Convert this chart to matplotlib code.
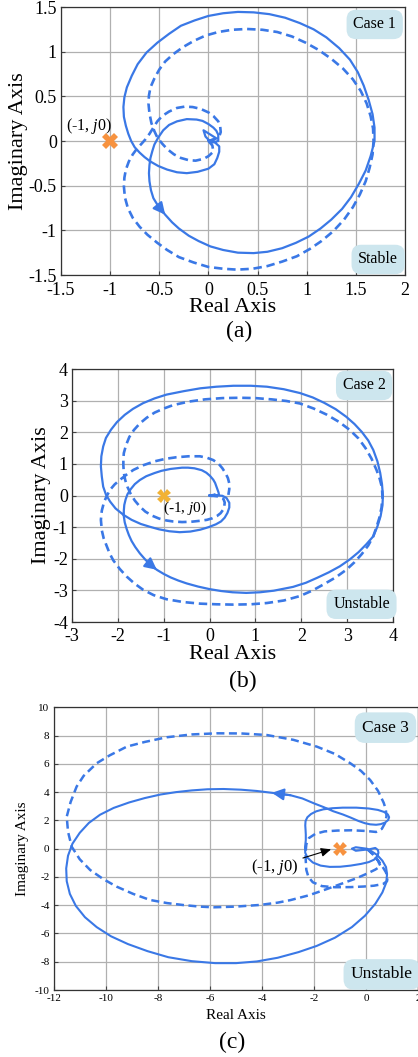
import matplotlib
matplotlib.use('Agg')
import matplotlib.pyplot as plt

plt.rcParams['font.family'] = ['Liberation Serif', 'DejaVu Serif']
plt.rcParams['mathtext.fontset'] = 'custom'
plt.rcParams['mathtext.rm'] = 'Liberation Serif'
plt.rcParams['mathtext.it'] = 'Liberation Serif:italic'

BLUE = '#3a78e6'
BOXC = '#cde6ee'

# ---------------- Case 1 (a) : (re, im) points ----------------
a_sol = [(0.00, 0.00), (0.08, 0.03), (-0.05, 0.12), (-0.03, 0.05), (0.03, -0.02), (0.10, 0.00),
         (0.10, 0.07), (0.08, 0.115), (0.05, 0.15), (0.00, 0.19), (-0.06, 0.225), (-0.12, 0.24),
         (-0.22, 0.245), (-0.32, 0.22), (-0.40, 0.18), (-0.46, 0.12), (-0.51, 0.04), (-0.55, -0.04),
         (-0.57, -0.11), (-0.59, -0.19), (-0.60, -0.27), (-0.605, -0.36), (-0.60, -0.45), (-0.585, -0.55),
         (-0.56, -0.64), (-0.51, -0.73), (-0.44, -0.825), (-0.37, -0.91), (-0.30, -0.98), (-0.20, -1.06),
         (-0.10, -1.12), (0.02, -1.18), (0.15, -1.22), (0.30, -1.25), (0.46, -1.255), (0.60, -1.24),
         (0.75, -1.20), (0.89, -1.14), (1.02, -1.07), (1.14, -0.98), (1.25, -0.88), (1.36, -0.76),
         (1.45, -0.63), (1.53, -0.48), (1.60, -0.33), (1.65, -0.17), (1.69, 0.00), (1.69, 0.15),
         (1.67, 0.30), (1.63, 0.46), (1.58, 0.62), (1.52, 0.77), (1.44, 0.91), (1.33, 1.04), (1.20, 1.16),
         (1.07, 1.25), (0.93, 1.32), (0.78, 1.38), (0.62, 1.42), (0.46, 1.44), (0.30, 1.445), (0.15, 1.43),
         (0.00, 1.40), (-0.14, 1.35), (-0.28, 1.29), (-0.40, 1.20), (-0.52, 1.10), (-0.63, 0.99),
         (-0.72, 0.86), (-0.78, 0.73), (-0.83, 0.60), (-0.855, 0.49), (-0.865, 0.38), (-0.86, 0.27),
         (-0.84, 0.17), (-0.815, 0.08), (-0.786, 0.00), (-0.75, -0.07), (-0.70, -0.13), (-0.65, -0.18),
         (-0.59, -0.23), (-0.51, -0.28), (-0.42, -0.32), (-0.32, -0.35), (-0.22, -0.36), (-0.11, -0.345),
         (0.00, -0.31), (0.06, -0.26), (0.09, -0.19), (0.11, -0.12), (0.11, -0.06), (0.05, 0.00)]
a_arrow = 26
a_das = [(0.00, 0.00), (0.06, 0.02), (0.11, 0.05), (0.125, 0.10), (0.12, 0.16), (0.10, 0.22), (0.05, 0.28),
         (0.00, 0.32), (-0.08, 0.36), (-0.16, 0.38), (-0.24, 0.385), (-0.32, 0.37), (-0.40, 0.33),
         (-0.47, 0.28), (-0.52, 0.22), (-0.56, 0.15), (-0.60, 0.08), (-0.64, 0.02), (-0.68, -0.03),
         (-0.73, -0.09), (-0.77, -0.15), (-0.81, -0.23), (-0.84, -0.32), (-0.855, -0.41), (-0.86, -0.51),
         (-0.85, -0.63), (-0.82, -0.75), (-0.77, -0.86), (-0.70, -0.96), (-0.62, -1.05), (-0.52, -1.14),
         (-0.42, -1.22), (-0.30, -1.30), (-0.15, -1.36), (0.00, -1.41), (0.15, -1.43), (0.29, -1.44),
         (0.45, -1.43), (0.60, -1.40), (0.75, -1.35), (0.90, -1.29), (1.03, -1.21), (1.15, -1.12),
         (1.27, -1.01), (1.38, -0.88), (1.47, -0.74), (1.54, -0.60), (1.60, -0.45), (1.64, -0.30),
         (1.67, -0.15), (1.68, 0.00), (1.675, 0.14), (1.65, 0.28), (1.61, 0.42), (1.55, 0.56), (1.47, 0.69),
         (1.37, 0.81), (1.25, 0.92), (1.12, 1.02), (0.99, 1.10), (0.85, 1.17), (0.70, 1.22), (0.55, 1.245),
         (0.39, 1.254), (0.24, 1.245), (0.10, 1.22), (-0.03, 1.18), (-0.15, 1.12), (-0.26, 1.05),
         (-0.36, 0.97), (-0.44, 0.89), (-0.50, 0.80), (-0.55, 0.70), (-0.59, 0.60), (-0.605, 0.51),
         (-0.61, 0.42), (-0.60, 0.31), (-0.58, 0.20), (-0.55, 0.11), (-0.52, 0.04), (-0.47, -0.03),
         (-0.42, -0.09), (-0.35, -0.15), (-0.28, -0.19), (-0.20, -0.215), (-0.13, -0.22), (-0.05, -0.20),
         (0.00, -0.17), (0.05, -0.12), (0.04, -0.05), (0.00, 0.00)]

# ---------------- Case 2 (b) ----------------
b_sol = [(0.00, 0.00), (0.12, 0.03), (0.04, -0.02), (0.20, 0.02), (0.20, 0.07), (0.19, 0.12), (0.17, 0.20),
         (0.15, 0.28), (0.12, 0.40), (0.08, 0.50), (0.01, 0.62), (-0.07, 0.72), (-0.17, 0.80), (-0.33, 0.86),
         (-0.47, 0.88), (-0.60, 0.88), (-0.85, 0.84), (-1.05, 0.78), (-1.20, 0.71), (-1.38, 0.61),
         (-1.52, 0.49), (-1.63, 0.36), (-1.72, 0.20), (-1.79, 0.04), (-1.83, -0.12), (-1.86, -0.30),
         (-1.87, -0.48), (-1.87, -0.66), (-1.85, -0.85), (-1.81, -1.05), (-1.76, -1.25), (-1.70, -1.44),
         (-1.62, -1.63), (-1.52, -1.83), (-1.40, -2.03), (-1.28, -2.20), (-1.15, -2.35), (-1.00, -2.48),
         (-0.85, -2.59), (-0.68, -2.69), (-0.50, -2.78), (-0.25, -2.88), (0.00, -2.96), (0.25, -3.02),
         (0.50, -3.06), (0.80, -3.08), (1.10, -3.06), (1.40, -3.01), (1.82, -2.89), (2.10, -2.76),
         (2.35, -2.60), (2.60, -2.43), (2.84, -2.24), (3.06, -2.02), (3.25, -1.79), (3.42, -1.54),
         (3.57, -1.29), (3.66, -0.98), (3.73, -0.65), (3.77, -0.32), (3.78, 0.00), (3.76, 0.36),
         (3.72, 0.72), (3.66, 1.08), (3.57, 1.44), (3.46, 1.74), (3.32, 2.01), (3.16, 2.26), (2.98, 2.49),
         (2.75, 2.73), (2.50, 2.93), (2.25, 3.10), (1.97, 3.24), (1.62, 3.36), (1.25, 3.44), (0.90, 3.47),
         (0.52, 3.47), (0.15, 3.44), (-0.20, 3.39), (-0.56, 3.30), (-0.94, 3.19), (-1.20, 3.07),
         (-1.45, 2.92), (-1.67, 2.74), (-1.85, 2.55), (-2.02, 2.32), (-2.15, 2.08), (-2.26, 1.82),
         (-2.32, 1.55), (-2.36, 1.24), (-2.37, 0.92), (-2.35, 0.60), (-2.32, 0.28), (-2.26, 0.03),
         (-2.17, -0.19), (-2.05, -0.41), (-1.88, -0.61), (-1.70, -0.77), (-1.50, -0.90), (-1.30, -0.99),
         (-1.10, -1.07), (-0.88, -1.13), (-0.65, -1.16), (-0.42, -1.14), (-0.20, -1.08), (-0.02, -1.00),
         (0.14, -0.91), (0.25, -0.82), (0.33, -0.70), (0.39, -0.55), (0.43, -0.38), (0.43, -0.23),
         (0.37, -0.08), (0.28, -0.01), (0.20, 0.00), (0.00, 0.00)]
b_arrow = 36
b_das = [(0.00, 0.00), (0.20, -0.03), (0.30, -0.10), (0.33, -0.22), (0.32, -0.35), (0.29, -0.46),
         (0.24, -0.56), (0.16, -0.65), (0.06, -0.72), (-0.06, -0.77), (-0.21, -0.80), (-0.40, -0.83),
         (-0.60, -0.84), (-0.80, -0.82), (-0.94, -0.79), (-1.10, -0.73), (-1.25, -0.64), (-1.40, -0.51),
         (-1.52, -0.35), (-1.63, -0.16), (-1.72, 0.05), (-1.79, 0.27), (-1.84, 0.49), (-1.87, 0.72),
         (-1.88, 0.95), (-1.88, 1.15), (-1.87, 1.34), (-1.82, 1.60), (-1.75, 1.85), (-1.65, 2.07),
         (-1.52, 2.28), (-1.37, 2.46), (-1.20, 2.62), (-1.00, 2.75), (-0.79, 2.86), (-0.45, 2.97),
         (-0.10, 3.04), (0.28, 3.08), (0.66, 3.09), (1.00, 3.08), (1.35, 3.04), (1.67, 2.99), (1.97, 2.91),
         (2.27, 2.75), (2.55, 2.56), (2.82, 2.33), (3.06, 2.07), (3.25, 1.80), (3.40, 1.50), (3.53, 1.17),
         (3.64, 0.81), (3.71, 0.53), (3.76, 0.25), (3.77, -0.05), (3.75, -0.38), (3.70, -0.72),
         (3.64, -1.00), (3.57, -1.29), (3.46, -1.58), (3.32, -1.85), (3.16, -2.11), (2.98, -2.35),
         (2.75, -2.59), (2.50, -2.80), (2.25, -3.00), (1.97, -3.18), (1.62, -3.32), (1.25, -3.40),
         (0.90, -3.44), (0.52, -3.45), (0.15, -3.44), (-0.20, -3.42), (-0.57, -3.37), (-0.94, -3.28),
         (-1.22, -3.15), (-1.45, -2.98), (-1.64, -2.78), (-1.81, -2.56), (-1.96, -2.32), (-2.10, -2.05),
         (-2.18, -1.83), (-2.24, -1.61), (-2.31, -1.35), (-2.35, -1.10), (-2.37, -0.77), (-2.35, -0.48),
         (-2.30, -0.20), (-2.24, -0.01), (-2.17, 0.18), (-2.07, 0.35), (-1.95, 0.50), (-1.81, 0.66),
         (-1.66, 0.81), (-1.44, 0.96), (-1.20, 1.08), (-0.96, 1.16), (-0.72, 1.21), (-0.46, 1.24),
         (-0.21, 1.24), (-0.05, 1.19), (0.08, 1.12), (0.20, 1.00), (0.28, 0.86), (0.35, 0.70), (0.40, 0.55),
         (0.43, 0.38), (0.43, 0.20), (0.41, 0.02)]

# ---------------- Case 3 (c) ----------------
c_sol = [(0.00, 0.00), (-0.40, 0.10), (-0.55, 0.00), (-0.40, -0.15), (0.10, -0.05), (0.35, 0.05),
         (0.45, -0.10), (0.47, -0.30), (0.42, -0.55), (0.30, -0.78), (0.10, -0.95), (-0.20, -1.08),
         (-0.60, -1.20), (-1.00, -1.28), (-1.40, -1.29), (-1.75, -1.20), (-2.05, -0.98), (-2.25, -0.65),
         (-2.34, -0.30), (-2.35, 0.10), (-2.32, 0.60), (-2.32, 1.00), (-2.33, 1.35), (-2.34, 1.64),
         (-2.33, 1.95), (-2.26, 2.22), (-2.12, 2.45), (-1.92, 2.64), (-1.65, 2.78), (-1.30, 2.86),
         (-0.90, 2.90), (-0.38, 2.90), (0.10, 2.84), (0.45, 2.74), (0.68, 2.60), (0.83, 2.42), (0.88, 2.22),
         (0.84, 2.02), (0.72, 1.84), (0.55, 1.73), (0.38, 1.69), (0.15, 1.72), (-0.05, 1.80), (-0.30, 1.96),
         (-0.60, 2.20), (-0.90, 2.42), (-1.27, 2.65), (-1.65, 2.95), (-2.00, 3.20), (-2.45, 3.55),
         (-2.91, 3.78), (-3.62, 3.95), (-4.20, 4.08), (-4.80, 4.17), (-5.48, 4.22), (-6.10, 4.20),
         (-6.70, 4.12), (-7.30, 4.00), (-7.90, 3.83), (-8.50, 3.58), (-9.10, 3.27), (-9.70, 2.88),
         (-10.22, 2.40), (-10.65, 1.82), (-11.00, 1.12), (-11.28, 0.35), (-11.45, -0.50), (-11.52, -1.40),
         (-11.50, -2.30), (-11.38, -3.20), (-11.15, -4.05), (-10.80, -4.85), (-10.35, -5.55), (-9.80, -6.20),
         (-9.15, -6.75), (-8.40, -7.25), (-7.60, -7.68), (-6.70, -7.96), (-5.80, -8.10), (-5.00, -8.10),
         (-4.20, -7.98), (-3.40, -7.72), (-2.60, -7.32), (-1.90, -6.88), (-1.20, -6.30), (-0.55, -5.55),
         (-0.05, -4.75), (0.35, -3.90), (0.62, -3.10), (0.77, -2.40), (0.80, -1.80), (0.76, -1.30),
         (0.62, -0.85), (0.42, -0.45), (0.20, -0.18), (0.03, -0.05)]
c_arrow = 51
c_das = [(0.00, 0.00), (0.20, -0.25), (0.40, -0.70), (0.60, -1.20), (0.75, -1.65), (0.82, -2.00),
         (0.80, -2.30), (0.65, -2.50), (0.30, -2.62), (-0.10, -2.68), (-0.60, -2.72), (-1.20, -2.73),
         (-1.70, -2.65), (-2.05, -2.38), (-2.22, -2.00), (-2.30, -1.50), (-2.32, -0.90), (-2.33, -0.30),
         (-2.30, 0.30), (-2.20, 0.75), (-1.95, 1.05), (-1.60, 1.22), (-1.10, 1.28), (-0.55, 1.30),
         (0.00, 1.25), (0.38, 1.18), (0.60, 1.40), (0.72, 1.80), (0.78, 2.30), (0.75, 2.80), (0.67, 3.25),
         (0.45, 4.10), (0.15, 4.86), (-0.20, 5.50), (-0.61, 6.04), (-1.20, 6.70), (-1.90, 7.22),
         (-2.80, 7.70), (-3.82, 8.04), (-4.80, 8.15), (-5.74, 8.16), (-6.70, 8.08), (-7.66, 7.88),
         (-8.50, 7.55), (-9.19, 7.22), (-9.85, 6.60), (-10.35, 6.04), (-10.85, 5.15), (-11.12, 4.39),
         (-11.35, 3.30), (-11.50, 2.26), (-11.45, 1.20), (-11.31, 0.14), (-11.00, -0.75), (-10.60, -1.51),
         (-10.10, -2.15), (-9.58, -2.69), (-8.95, -3.20), (-8.30, -3.63), (-7.65, -3.85), (-7.02, -3.99),
         (-6.40, -4.10), (-5.86, -4.15), (-5.00, -4.10), (-4.07, -3.98), (-3.40, -3.82), (-2.91, -3.64),
         (-2.20, -3.30), (-1.50, -2.85), (-0.90, -2.45), (-0.38, -2.10), (0.05, -1.75), (0.35, -1.48),
         (0.55, -1.25), (0.45, -0.85), (0.25, -0.40), (0.05, -0.05)]

crit_re, crit_im = -1, 0

a_xticks = [-1.5, -1, -0.5, 0, 0.5, 1, 1.5, 2]
a_xlabels = ['-1.5', '-1', '-0.5', '0', '0.5', '1', '1.5', '2']
a_yticks = [-1.5, -1, -0.5, 0, 0.5, 1, 1.5]
a_ylabels = ['-1.5', '-1', '-0.5', '0', '0.5', '1', '1.5']
b_xticks = list(range(-3, 5))
b_yticks = list(range(-4, 5))
c_xticks = list(range(-12, 3, 2))
c_yticks = list(range(-10, 11, 2))

fig = plt.figure(figsize=(4.18, 10.57), dpi=100)
W, H = 418, 1057


def make_ax(l, r, t, b):
    return fig.add_axes([l / W, 1 - b / H, (r - l) / W, (b - t) / H])


def style(ax, xt, xl, yt, yl, xlim, ylim, fs_tick, fs_lab, xlabpad, ylabpad, xpad=3):
    ax.set_xlim(*xlim)
    ax.set_ylim(*ylim)
    ax.set_xticks(xt)
    ax.set_xticklabels(xl)
    ax.set_yticks(yt)
    ax.set_yticklabels(yl)
    ax.grid(True, color='#b0b0b0', lw=0.9)
    ax.set_axisbelow(True)
    ax.tick_params(direction='in', length=3, labelsize=fs_tick, width=0.8, color='#444444', pad=3)
    ax.tick_params(axis='x', pad=xpad)
    for s in ax.spines.values():
        s.set_color('#333333')
        s.set_linewidth(0.9)
    ax.set_xlabel('Real Axis', fontsize=fs_lab, labelpad=xlabpad)
    ax.set_ylabel('Imaginary Axis', fontsize=fs_lab, labelpad=ylabpad)


def curves(ax, sol, das, idx, lw=1.6):
    sr = [p[0] for p in sol]
    si = [p[1] for p in sol]
    dr = [p[0] for p in das]
    di = [p[1] for p in das]
    ax.plot(sr, si, color=BLUE, lw=lw, solid_joinstyle='round')
    ax.plot(dr, di, color=BLUE, lw=lw + 0.3, ls=(0, (3.2, 1.8)), dash_capstyle='butt')
    ax.annotate('', xy=(sr[idx], si[idx]), xytext=(sr[idx - 1], si[idx - 1]),
                arrowprops=dict(arrowstyle='-|>,head_length=0.7,head_width=0.35', color=BLUE,
                                lw=lw, shrinkA=0, shrinkB=0, mutation_scale=10))


def tag(ax, x, y, s, fs):
    ax.text(x, y, s, transform=ax.transAxes, ha='center', va='center', fontsize=fs,
            bbox=dict(boxstyle='round,pad=0.42,rounding_size=0.6', fc=BOXC, ec='none'))


# (a)
ax1 = make_ax(61, 405, 7, 275)
style(ax1, a_xticks, a_xlabels, a_yticks, a_ylabels, (-1.5, 2), (-1.5, 1.5), 13, 16, -1, 0, xpad=5)
curves(ax1, a_sol, a_das, a_arrow)
ax1.plot([crit_re], [crit_im], marker='X', color='#f7923f', ms=11, mew=0, ls='none')
ax1.text(-1.22, 0.17, '(-1, $j$0)', fontsize=11.5, ha='center', va='center')
tag(ax1, 0.912, 0.935, 'Case 1', 11.5)
tag(ax1, 0.922, 0.058, 'Stable', 11.5)
fig.text(239 / W, 1 - 331 / H, '(a)', ha='center', va='center', fontsize=17)

# (b)
ax2 = make_ax(72, 393, 369, 622)
style(ax2, b_xticks, [str(v) for v in b_xticks], b_yticks, [str(v) for v in b_yticks],
      (-3, 4), (-4, 4), 13, 16, 0, 1, xpad=4)
curves(ax2, b_sol, b_das, b_arrow)
ax2.plot([crit_re], [crit_im], marker='X', color='#f2b233', ms=10, mew=0, ls='none')
ax2.text(-0.54, -0.42, '(-1, $j$0)', fontsize=11, ha='center', va='center')
tag(ax2, 0.91, 0.935, 'Case 2', 11.5)
tag(ax2, 0.902, 0.07, 'Unstable', 11.5)
fig.text(243 / W, 1 - 681 / H, '(b)', ha='center', va='center', fontsize=17)

# (c)
ax3 = make_ax(53.7, 418.3, 707.3, 990)
style(ax3, c_xticks, [str(v) for v in c_xticks], c_yticks, [str(v) for v in c_yticks],
      (-12, 2), (-10, 10), 8, 11, 4, 4)
curves(ax3, c_sol, c_das, c_arrow, lw=1.5)
ax3.plot([crit_re], [crit_im], marker='X', color='#f7923f', ms=10, mew=0, ls='none')
ax3.annotate('(-1, $j$0)', xy=(-1.35, -0.05), xytext=(-3.5, -1.27), fontsize=12,
             ha='center', va='center',
             arrowprops=dict(arrowstyle='-|>,head_length=0.5,head_width=0.22', color='black',
                             lw=0.8, shrinkA=1, shrinkB=0))
tag(ax3, 0.91, 0.928, 'Case 3', 12.5)
tag(ax3, 0.90, 0.055, 'Unstable', 12.5)
fig.text(232 / W, 1 - 1042 / H, '(c)', ha='center', va='center', fontsize=17)

fig.savefig('out.png', dpi=100)
